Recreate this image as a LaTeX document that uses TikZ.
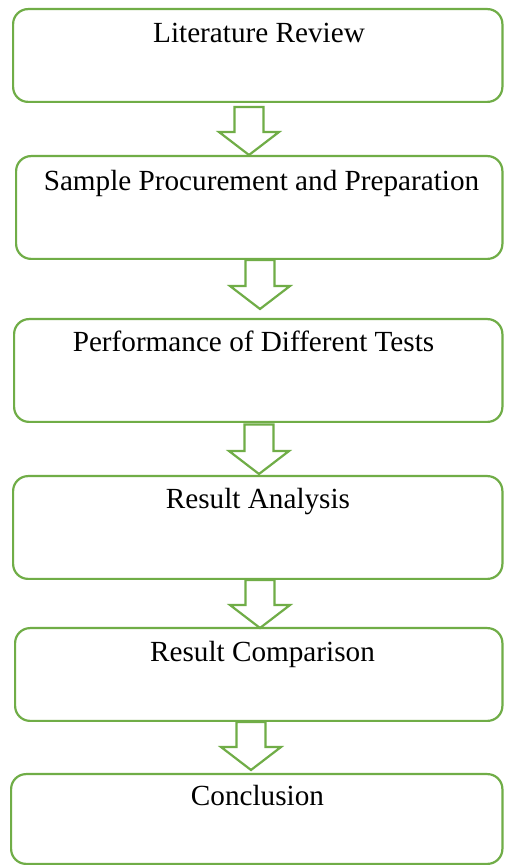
\documentclass[tikz,border=0pt]{standalone}
\usepackage{fontspec}
\setmainfont{Liberation Serif}
\usetikzlibrary{calc}
\definecolor{stepgreen}{HTML}{70AD47}

\tikzset{
  stagebox/.style={draw=stepgreen, line width=2.2pt, rounded corners=15pt,
    inner sep=0pt, fill=white},
  stagetext/.style={anchor=base, inner sep=0pt,
    font=\fontsize{29.2}{35}\selectfont},
  arrowline/.style={draw=stepgreen, line width=2.2pt, line join=miter},
}

% hollow block arrow: #1 from node, #2 to node, #3 x offset, #4 gap below #1, #5 gap above #2
\newcommand\flowarrow[5]{%
  \draw[arrowline] let \p1=(#1.south), \p2=(#2.north) in
    (\x1+#3-14.5,\y1-#4) -- (\x1+#3-14.5,\y2+#5+23) -- (\x1+#3-30,\y2+#5+23)
    -- (\x1+#3,\y2+#5) -- (\x1+#3+30,\y2+#5+23) -- (\x1+#3+14.5,\y2+#5+23)
    -- (\x1+#3+14.5,\y1-#4) -- cycle;
}

\begin{document}
\begin{tikzpicture}[x=1pt, y=1pt]
  \useasboundingbox (0,0) rectangle (504,867);
  \fill[white] (0,0) rectangle (504,867);

  % stage boxes (centre x, centre y measured from the top)
  \node[stagebox, minimum width=489.3pt, minimum height=92.8pt]  (b1) at (257.75, 867-55.5) {};
  \node[stagebox, minimum width=486.3pt, minimum height=102.8pt] (b2) at (259.25, 867-207.5) {};
  \node[stagebox, minimum width=488.3pt, minimum height=102.8pt] (b3) at (258.25, 867-370.5) {};
  \node[stagebox, minimum width=489.3pt, minimum height=102.8pt] (b4) at (257.75, 867-527.5) {};
  \node[stagebox, minimum width=487.3pt, minimum height=92.8pt]  (b5) at (258.75, 867-674.5) {};
  \node[stagebox, minimum width=491.3pt, minimum height=89.8pt]  (b6) at (256.75, 867-819) {};

  % stage titles
  \node[stagetext] (t1) at ($(b1.north)+(1.25,-35)$)   {Literature Review};
  \node[stagetext] (t2) at ($(b2.north)+(2.25,-36)$)   {Sample Procurement and Preparation};
  \node[stagetext] (t3) at ($(b3.north)+(-4.75,-34)$)  {Performance of Different Tests};
  \node[stagetext] (t4) at ($(b4.north)+(0.25,-34)$)   {Result Analysis};
  \node[stagetext] (t5) at ($(b5.north)+(3.75,-35)$)   {Result Comparison};
  \node[stagetext] (t6) at ($(b6.north)+(0.75,-33)$)   {Conclusion};

  % connecting block arrows
  \flowarrow{b1}{b2}{-8.75}{4}{0}
  \flowarrow{b2}{b3}{0.75}{0}{9}
  \flowarrow{b3}{b4}{0.75}{1.5}{1}
  \flowarrow{b4}{b5}{2.25}{0}{-1}
  \flowarrow{b5}{b6}{-7.75}{0}{3}
\end{tikzpicture}
\end{document}
